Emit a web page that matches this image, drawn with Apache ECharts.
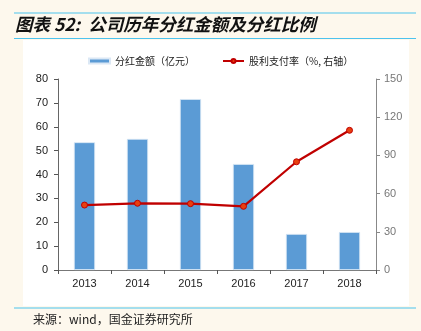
<!DOCTYPE html>
<html><head><meta charset="utf-8">
<script src="https://cdn.jsdelivr.net/npm/echarts@6/dist/echarts.min.js"></script>
<style>html,body{margin:0;padding:0;background:#fdf8ed;}#c{width:421px;height:331px;}</style>
</head><body><div id="c"></div>
<script>
const categories = ['2013','2014','2015','2016','2017','2018'];
const dividendAmount = [53.5, 54.9, 71.6, 44.4, 15.1, 15.9];
const payoutRatio = [51.0, 52.4, 52.1, 50.0, 85.0, 109.7];
const leftTicks = {min:0, max:80, interval:10};
const rightTicks = {min:0, max:150, interval:30};

const chart = echarts.init(document.getElementById('c'));
chart.setOption({
  backgroundColor: '#fdf8ed',
  animation: false,
  graphic: [
    {type:'rect', shape:{x:23,y:40,width:386,height:266}, style:{fill:'#ffffff'}, z:-10},
    {type:'line', shape:{x1:14,y1:13,x2:416,y2:13}, style:{stroke:'#4cc3ee',lineWidth:1.2}},
    {type:'line', shape:{x1:14,y1:38.5,x2:416,y2:38.5}, style:{stroke:'#4cc3ee',lineWidth:1.2}},
    {type:'line', shape:{x1:14,y1:308,x2:416,y2:308}, style:{stroke:'#4cc3ee',lineWidth:1.2}},
    {type:'text', left:15, top:16, style:{text:'图表 52:  公司历年分红金额及分红比例', font:'italic bold 17.5px "Noto Sans CJK SC"', fill:'#111'}},
    {type:'text', left:33, top:313, style:{text:'来源：wind，国金证券研究所', font:'12px "Noto Sans CJK SC"', fill:'#222'}}
  ],
  legend: {
    top: 51, left: 83, itemGap: 27, itemWidth: 21, itemHeight: 5,
    textStyle: {fontSize: 10, color:'#222', fontFamily:'"Noto Sans CJK SC"'},
    data: [
      {name:'分红金额（亿元）', icon:'rect'},
      {name:'股利支付率（%, 右轴）'}
    ]
  },
  grid: {left:58, right:45, top:79, bottom:61, containLabel:false},
  xAxis: {
    type:'category', data: categories,
    axisLine:{lineStyle:{color:'#777'}},
    axisTick:{show:true, alignWithLabel:false, length:4, lineStyle:{color:'#555'}},
    axisLabel:{color:'#222', fontSize:11, margin:8, fontFamily:'Liberation Sans'}
  },
  yAxis: [
    {type:'value', min:leftTicks.min, max:leftTicks.max, interval:leftTicks.interval,
     axisLine:{show:true, lineStyle:{color:'#666'}},
     axisTick:{show:true, length:4, lineStyle:{color:'#555'}},
     splitLine:{show:false},
     axisLabel:{color:'#222', fontSize:11, margin:10, fontFamily:'Liberation Sans'}},
    {type:'value', position:'right', min:rightTicks.min, max:rightTicks.max, interval:rightTicks.interval,
     axisLine:{show:true, lineStyle:{color:'#888'}},
     axisTick:{show:true, length:4, lineStyle:{color:'#888'}},
     splitLine:{show:false},
     axisLabel:{color:'#777', fontSize:11, margin:8, fontFamily:'Liberation Sans'}}
  ],
  series: [
    {name:'分红金额（亿元）', type:'bar', data: dividendAmount, barWidth:'40%', yAxisIndex:0,
     itemStyle:{color:'#5b9bd5', borderColor:'#dbe8f5', borderWidth:0.8}},
    {name:'股利支付率（%, 右轴）', type:'line', data: payoutRatio, yAxisIndex:1,
     symbol:'circle', symbolSize:6,
     lineStyle:{color:'#c00000', width:2.2},
     itemStyle:{color:'#e84010', borderColor:'#c00000', borderWidth:1}}
  ]
});
</script></body></html>
